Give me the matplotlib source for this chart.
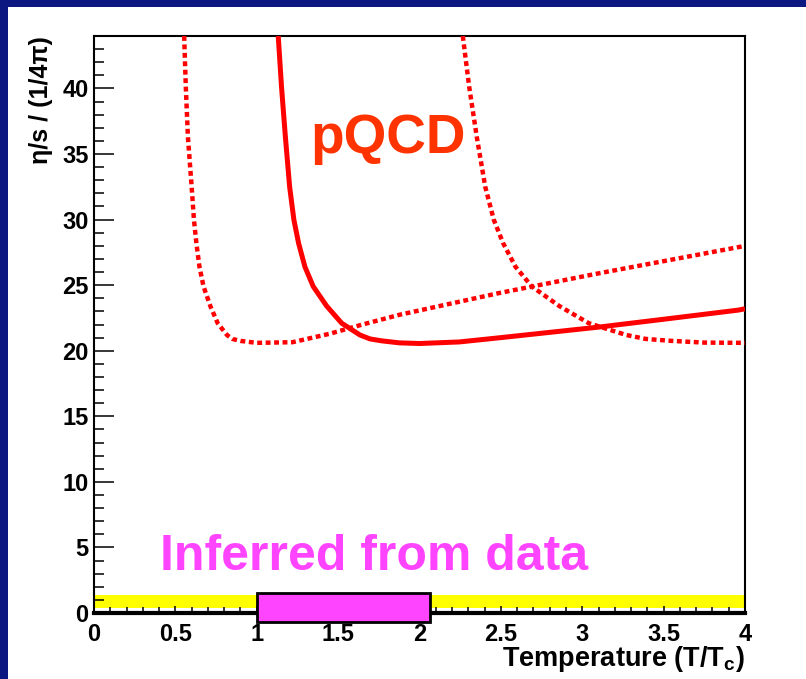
import matplotlib
matplotlib.use('Agg')
import matplotlib.pyplot as plt
from matplotlib.patches import Rectangle
from matplotlib.ticker import MultipleLocator

# curva pQCD centrale (linea continua)
t_pqcd = [1.132, 1.152, 1.176, 1.202, 1.228, 1.257, 1.296, 1.347, 1.43, 1.522, 1.634,
          1.696, 1.77, 1.877, 2.0, 2.245, 2.5, 2.8, 3.1, 3.5, 3.96, 4.0]
eta_pqcd = [44, 40.15, 36.3, 32.5, 30.0, 28.2, 26.4, 24.9, 23.4, 22.1, 21.2,
            20.9, 20.75, 20.6, 20.55, 20.67, 21.0, 21.4, 21.8, 22.4, 23.1, 23.2]

# curve pQCD tratteggiate (banda di incertezza)
t_low = [0.554, 0.564, 0.577, 0.600, 0.614, 0.629, 0.648, 0.673, 0.715, 0.76, 0.817,
         0.85, 0.90, 1.0, 1.22, 1.45, 1.65, 1.88, 2.49, 3.1, 3.96, 4.0]
eta_low = [44, 40.15, 36.3, 32.5, 30.0, 28.2, 26.4, 24.9, 23.4, 22.1, 21.2,
           20.9, 20.75, 20.6, 20.65, 21.3, 22.0, 22.75, 24.4, 25.9, 27.9, 28.0]

t_high = [2.266, 2.305, 2.352, 2.404, 2.456, 2.514, 2.59, 2.69, 2.86, 3.04, 3.27,
          3.39, 3.55, 3.75, 4.0]
eta_high = [44, 40.15, 36.3, 32.5, 30.0, 28.2, 26.4, 24.9, 23.4, 22.1, 21.2,
            20.9, 20.75, 20.62, 20.6]

# banda gialla e box "dati"
band_y = [0.4, 1.37]
data_t = [1.0, 2.065]
data_eta = [-0.7, 1.5]

plt.rcParams['font.family'] = ['Liberation Sans', 'DejaVu Sans']
plt.rcParams['font.weight'] = 'bold'
plt.rcParams['mathtext.fontset'] = 'custom'
plt.rcParams['mathtext.rm'] = 'Liberation Sans:bold'
plt.rcParams['mathtext.it'] = 'Liberation Sans:bold'
plt.rcParams['mathtext.bf'] = 'Liberation Sans:bold'

fig = plt.figure(figsize=(8.06, 6.79), dpi=100)
fig.patch.set_facecolor('#0c1782')
fig.patches.append(Rectangle((8 / 806, 0), 1, (679 - 7) / 679, transform=fig.transFigure,
                             facecolor='white', edgecolor='none', zorder=-5))

ax = fig.add_axes([94 / 806, 66 / 679, 651 / 806, 577 / 679])
ax.set_xlim(0, 4)
ax.set_ylim(0, 44)

ax.fill_between([0, 4], band_y[0], band_y[1], color='#ffff00', lw=0, zorder=1)

ax.plot(t_pqcd, eta_pqcd, color='#ff0000', lw=3.6, solid_capstyle='butt', zorder=3)
ax.plot(t_low, eta_low, color='#ff0000', lw=3.2, linestyle=(0, (1.1, 0.8)), zorder=3)
ax.plot(t_high, eta_high, color='#ff0000', lw=3.2, linestyle=(0, (1.1, 0.8)), zorder=3)

ax.add_patch(Rectangle((data_t[0], data_eta[0]), data_t[1] - data_t[0], data_eta[1] - data_eta[0],
                       facecolor='#ff44ff', edgecolor='black', lw=2, clip_on=False, zorder=6))

ax.text(1.33, 35.05, 'pQCD', color='#ff3300', fontsize=39.5, fontweight='bold',
        ha='left', va='baseline', zorder=5)
ax.text(0.405, 3.28, 'Inferred from data', color='#ff44ff', fontsize=36, fontweight='bold',
        ha='left', va='baseline', zorder=5)

for s in ['top', 'right', 'left']:
    ax.spines[s].set_linewidth(1.5)
ax.spines['bottom'].set_linewidth(3)
ax.spines['bottom'].set_zorder(4)

ax.xaxis.set_major_locator(MultipleLocator(0.5))
ax.xaxis.set_minor_locator(MultipleLocator(0.1))
ax.yaxis.set_major_locator(MultipleLocator(5))
ax.yaxis.set_minor_locator(MultipleLocator(1))
ax.xaxis.set_major_formatter(plt.FuncFormatter(lambda v, p: ('%g' % v)))
ax.tick_params(axis='both', which='both', direction='in', top=False, right=False,
               labelsize=17, width=1.1)
ax.tick_params(axis='y', which='major', length=14.4, pad=4)
ax.tick_params(axis='y', which='minor', length=7.2)
ax.tick_params(axis='x', which='major', length=5, pad=7)
ax.tick_params(axis='x', which='minor', length=4.5)
for lab in ax.get_xticklabels() + ax.get_yticklabels():
    lab.set_fontweight('bold')

ax.set_xlabel('Temperature (T/T$_{\\mathrm{c}}$)', fontsize=19.5, fontweight='bold', loc='right')
ax.set_ylabel('η/s / (1/4π)', fontsize=18, fontweight='bold', loc='top')
ax.xaxis.set_label_coords(1.0, -0.053)
ax.yaxis.set_label_coords(-0.063, 1.0)

fig.savefig('out.png', dpi=100, facecolor=fig.get_facecolor())
